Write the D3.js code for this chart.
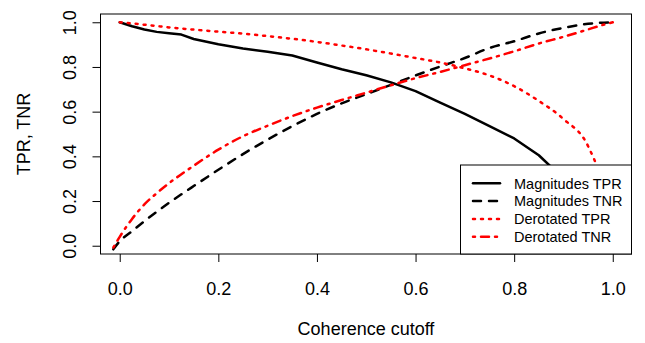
<!DOCTYPE html>
<html>
<head>
<meta charset="utf-8">
<script src="https://cdn.jsdelivr.net/npm/d3@7"></script>
<style>
  body { margin: 0; background: #fff; }
  text { font-family: "Liberation Sans", Arial, Helvetica, sans-serif; fill: #000; }
</style>
</head>
<body>
<script>
        // coherence cutoff grid and the four curves
        var cutoff = [-0.013, 0, 0.025, 0.05, 0.075, 0.1, 0.125, 0.15, 0.2, 0.25, 0.3, 0.35, 0.4,
            0.45, 0.5, 0.55, 0.6, 0.65, 0.7, 0.75, 0.8, 0.85, 0.9, 0.95, 0.975, 1.0];

        var magTPR = [null, 1.0, 0.982, 0.968, 0.957, 0.951, 0.945, 0.925, 0.902, 0.883, 0.868, 0.851, 0.82,
            0.79, 0.763, 0.731, 0.692, 0.64, 0.59, 0.535, 0.48, 0.405, 0.3, 0.17, 0.09, 0.0];

        var magTNR = [-0.016, 0.02, 0.065, 0.11, 0.152, 0.192, 0.23, 0.267, 0.34, 0.41, 0.475, 0.535, 0.59,
            0.637, 0.678, 0.72, 0.762, 0.802, 0.84, 0.885, 0.915, 0.95, 0.975, 0.993, 0.998, 1.0];

        var derTPR = [null, 1.0, 0.995, 0.989, 0.983, 0.977, 0.972, 0.967, 0.958, 0.949, 0.938, 0.926, 0.912,
            0.896, 0.879, 0.86, 0.84, 0.82, 0.794, 0.762, 0.714, 0.648, 0.567, 0.445, 0.3, 0.0];

        var derTNR = [-0.008, 0.04, 0.12, 0.185, 0.235, 0.28, 0.32, 0.358, 0.43, 0.49, 0.537, 0.58, 0.618,
            0.652, 0.685, 0.718, 0.75, 0.778, 0.808, 0.838, 0.87, 0.905, 0.935, 0.968, 0.985, 1.0];

        var xTicks = [0, 0.2, 0.4, 0.6, 0.8, 1.0];
        var yTicks = [0, 0.2, 0.4, 0.6, 0.8, 1.0];

        var seriesNames = ["Magnitudes TPR", "Magnitudes TNR", "Derotated TPR", "Derotated TNR"];
        var seriesValues = [magTPR, magTNR, derTPR, derTNR];
        var seriesColors = ["#000", "#000", "#ff0000", "#ff0000"];
        var seriesDash = [null, "8,8", "2,6", "2,6,8,6"];

        var width = 645, height = 343;
        var box = {left: 100.5, right: 631.5, top: 14, bottom: 254};

        var x = d3.scaleLinear().domain([-0.039, 1.038]).range([box.left, box.right]);
        var y = d3.scaleLinear().domain([-0.037, 1.037]).range([box.bottom, box.top]);

        var svg = d3.select("body")
            .append("svg")
            .attr("width", width)
            .attr("height", height);

        svg.append("rect")
            .attr("width", width)
            .attr("height", height)
            .attr("fill", "#fff");

        // curves (solid one kept linear so it stays a bit jagged)
        function makeLine(curve) {
            return d3.line()
                .defined(function(d) { return d[1] !== null; })
                .x(function(d) { return x(d[0]); })
                .y(function(d) { return y(d[1]); })
                .curve(curve);
        }

        seriesValues.forEach(function(vals, i) {
            svg.append("path")
                .datum(cutoff.map(function(c, j) { return [c, vals[j]]; }))
                .attr("d", makeLine(i === 0 ? d3.curveLinear : d3.curveMonotoneX))
                .attr("fill", "none")
                .attr("stroke", seriesColors[i])
                .attr("stroke-width", 2.5)
                .attr("stroke-linecap", "round")
                .attr("stroke-linejoin", "round")
                .attr("stroke-dasharray", seriesDash[i]);
        });

        // axes
        var xAxis = svg.append("g")
            .attr("transform", "translate(0," + box.bottom + ")")
            .call(d3.axisBottom(x).tickValues(xTicks).tickSize(8).tickPadding(20)
                .tickFormat(d3.format(".1f")));
        xAxis.select(".domain").remove();
        xAxis.selectAll("line").attr("stroke", "#000");
        xAxis.selectAll("text").attr("font-size", 18);

        var yAxis = svg.append("g")
            .attr("transform", "translate(" + box.left + ",0)")
            .call(d3.axisLeft(y).tickValues(yTicks).tickSize(8).tickFormat(d3.format(".1f")));
        yAxis.select(".domain").remove();
        yAxis.selectAll("line").attr("stroke", "#000");
        yAxis.selectAll("text")
            .attr("font-size", 18)
            .attr("x", null)
            .attr("dy", null)
            .attr("text-anchor", "middle")
            .attr("transform", "translate(-25,0) rotate(-90)");

        svg.append("rect")
            .attr("x", box.left)
            .attr("y", box.top)
            .attr("width", box.right - box.left)
            .attr("height", box.bottom - box.top)
            .attr("fill", "none")
            .attr("stroke", "#000");

        svg.append("text")
            .attr("x", (box.left + box.right) / 2)
            .attr("y", 335)
            .attr("text-anchor", "middle")
            .attr("font-size", 18)
            .text("Coherence cutoff");

        svg.append("text")
            .attr("transform", "translate(30," + (box.top + box.bottom) / 2 + ") rotate(-90)")
            .attr("text-anchor", "middle")
            .attr("font-size", 18)
            .text("TPR, TNR");

        // legend
        var legend = svg.append("g");
        legend.append("rect")
            .attr("x", 460.5)
            .attr("y", 165)
            .attr("width", box.right - 460.5)
            .attr("height", box.bottom - 165)
            .attr("fill", "#fff")
            .attr("stroke", "#000");

        var rows = legend.selectAll(".row")
            .data(seriesNames)
            .enter()
            .append("g")
            .attr("class", "row")
            .attr("transform", function(d, i) { return "translate(0," + (183.3 + i * 17.8) + ")"; });

        rows.append("line")
            .attr("x1", 473)
            .attr("x2", 500)
            .attr("stroke", function(d, i) { return seriesColors[i]; })
            .attr("stroke-width", 2.5)
            .attr("stroke-linecap", "round")
            .attr("stroke-dasharray", function(d, i) { return seriesDash[i]; });

        rows.append("text")
            .attr("x", 514)
            .attr("dy", "0.36em")
            .attr("font-size", 14.5)
            .text(function(d) { return d; });
</script>
</body>
</html>
